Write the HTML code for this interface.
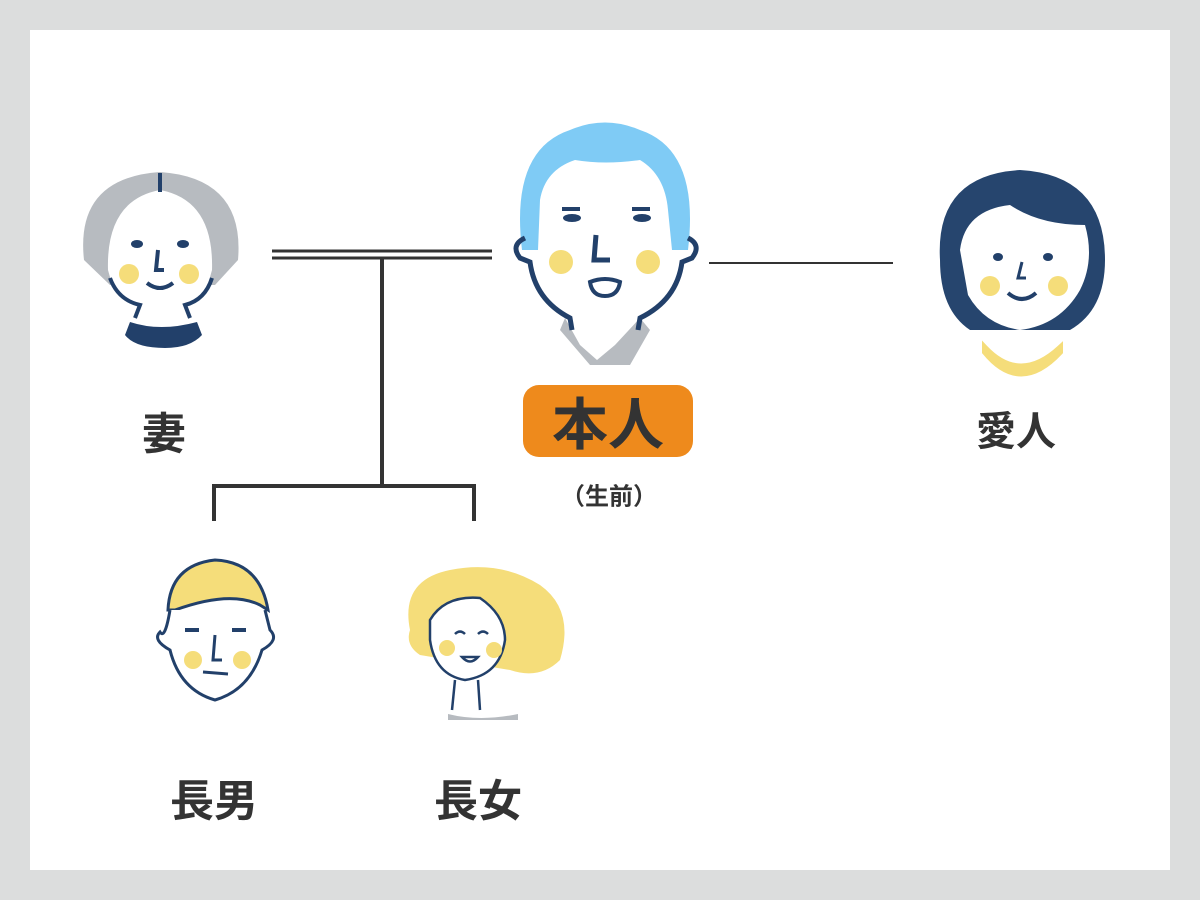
<!DOCTYPE html>
<html><head><meta charset="utf-8"><style>
body{margin:0;width:1200px;height:900px;background:#dcdddd;position:relative;overflow:hidden;font-family:"Liberation Sans","Noto Sans CJK JP",sans-serif}
.card{position:absolute;left:30px;top:30px;width:1140px;height:840px;background:#fff}
.t{position:absolute;font-weight:bold;color:#333;transform:translate(-50%,-50%);white-space:nowrap}
</style></head><body>
<div class="card"></div>
<svg width="1200" height="900" style="position:absolute;left:0;top:0">
<g stroke="#333" fill="none">
<line x1="272" y1="251" x2="492" y2="251" stroke-width="3"/>
<line x1="272" y1="258" x2="492" y2="258" stroke-width="3"/>
<line x1="382" y1="258" x2="382" y2="486" stroke-width="4"/>
<polyline points="214,521 214,486 474,486 474,521" stroke-width="4"/>
<line x1="709" y1="263" x2="893" y2="263" stroke-width="2"/>
</g>
<!-- wife -->
<path d="M84,260 Q75,178 160,172 Q245,178 238,260 L215,285 L110,285 Z" fill="#b7bbc0"/>
<path d="M108,270 Q106,200 160,190 Q214,200 212,270 L205,295 Q190,310 160,310 Q130,310 115,295 Z" fill="#fff"/>
<line x1="160" y1="173" x2="160" y2="192" stroke="#22406a" stroke-width="4"/>
<path d="M110,278 Q118,300 140,305 L135,318 M212,278 Q205,300 185,305 L190,318" fill="none" stroke="#22406a" stroke-width="4"/>
<path d="M130,322 Q160,332 197,322 L202,335 Q190,348 165,348 Q135,348 125,335 Z" fill="#22406a"/>
<ellipse cx="137" cy="244" rx="6" ry="4" fill="#22406a"/><ellipse cx="183" cy="244" rx="6" ry="4" fill="#22406a"/>
<circle cx="129" cy="274" r="10" fill="#f5dd7a"/><circle cx="189" cy="274" r="10" fill="#f5dd7a"/>
<path d="M158,250 L156,270 L164,270" stroke="#22406a" stroke-width="4" fill="none"/>
<path d="M147,283 Q160,293 173,283" stroke="#22406a" stroke-width="4" fill="none"/>
<!-- self -->
<path d="M522,250 Q510,150 570,130 Q605,115 640,130 Q700,150 688,250 Z" fill="#7fcbf5"/>
<path d="M540,200 Q545,170 575,160 Q605,165 640,160 Q665,175 668,210 L672,250 Q670,295 630,310 L580,310 Q540,295 538,250 Z" fill="#fff"/>
<path d="M565,318 L580,345 L597,360 L615,345 L640,318 L650,330 L630,365 L590,365 L560,330 Z" fill="#b7bbc0"/>
<path d="M525,238 Q510,245 520,258 L530,262 Q535,300 570,318 L572,330 M688,238 Q702,245 692,258 L682,262 Q677,300 640,318 L638,330" fill="none" stroke="#22406a" stroke-width="5"/>
<ellipse cx="572" cy="218" rx="9" ry="4" fill="#22406a"/><ellipse cx="642" cy="218" rx="9" ry="4" fill="#22406a"/>
<rect x="562" y="207" width="18" height="4" fill="#22406a"/><rect x="632" y="207" width="18" height="4" fill="#22406a"/>
<circle cx="561" cy="262" r="12" fill="#f5dd7a"/><circle cx="648" cy="262" r="12" fill="#f5dd7a"/>
<path d="M596,235 L594,260 L610,260" stroke="#22406a" stroke-width="5" fill="none"/>
<path d="M590,282 Q605,276 620,282 Q618,296 605,296 Q592,296 590,282 Z" fill="#fff" stroke="#22406a" stroke-width="4"/>
<!-- lover -->
<path d="M940,260 Q935,175 1020,170 Q1105,175 1105,260 Q1105,310 1070,330 L970,330 Q940,310 940,260 Z" fill="#26456e"/>
<path d="M960,250 Q965,210 1010,205 Q1040,225 1085,225 Q1095,260 1080,290 Q1060,325 1020,330 Q985,325 968,295 Z" fill="#fff"/>
<path d="M985,348 Q1020,385 1060,348 L1060,352 Q1020,395 985,352 Z" fill="#f5dd7a" stroke="#f5dd7a" stroke-width="6"/>
<ellipse cx="998" cy="257" rx="5" ry="4" fill="#22406a"/><ellipse cx="1048" cy="257" rx="5" ry="4" fill="#22406a"/>
<circle cx="990" cy="286" r="10" fill="#f5dd7a"/><circle cx="1058" cy="286" r="10" fill="#f5dd7a"/>
<path d="M1022,262 L1018,278 L1026,278" stroke="#22406a" stroke-width="3" fill="none"/>
<path d="M1008,293 Q1022,305 1036,293" stroke="#22406a" stroke-width="4" fill="none"/>
<!-- son -->
<path d="M168,610 Q170,565 215,560 Q260,562 268,610 L260,605 Q230,590 175,610 Z" fill="#f5dd7a" stroke="#22406a" stroke-width="3"/>
<path d="M170,610 Q165,640 160,632 Q152,640 170,650 Q180,690 215,700 Q250,690 262,650 Q280,640 270,630 L265,610" fill="#fff" stroke="#22406a" stroke-width="3"/>
<circle cx="193" cy="660" r="9" fill="#f5dd7a"/><circle cx="242" cy="660" r="9" fill="#f5dd7a"/>
<rect x="185" y="628" width="14" height="4" fill="#22406a"/><rect x="232" y="628" width="14" height="4" fill="#22406a"/>
<path d="M215,635 L213,660 L222,660 M203,672 L228,674" stroke="#22406a" stroke-width="3" fill="none"/>
<!-- daughter -->
<path d="M410,630 Q400,580 450,570 Q500,560 540,585 Q575,610 560,660 Q540,680 510,670 L420,655 Q405,645 410,630 Z" fill="#f5dd7a"/>
<path d="M430,620 Q445,595 480,598 Q505,615 505,640 Q500,675 465,680 Q435,675 430,640 Z" fill="#fff" stroke="#22406a" stroke-width="2.5"/>
<path d="M455,680 L452,710 M478,680 L480,710" stroke="#22406a" stroke-width="2.5"/>
<path d="M448,714 Q480,722 518,714 L518,720 L448,720 Z" fill="#b7bbc0"/>
<circle cx="447" cy="648" r="8" fill="#f5dd7a"/><circle cx="494" cy="650" r="8" fill="#f5dd7a"/>
<path d="M455,634 Q460,629 465,634 M478,634 Q483,629 488,634 M462,657 Q470,666 478,657 Z" stroke="#22406a" stroke-width="2.5" fill="none"/>
</svg>
<div class="t" style="left:164px;top:430px;font-size:44px">妻</div>
<div style="position:absolute;left:523px;top:385px;width:170px;height:72px;background:#ee8a1c;border-radius:16px"></div>
<div class="t" style="left:608px;top:421px;font-size:56px">本人</div>
<div class="t" style="left:609px;top:494px;font-size:24px">（生前）</div>
<div class="t" style="left:1016px;top:428px;font-size:40px">愛人</div>
<div class="t" style="left:214px;top:797px;font-size:44px">長男</div>
<div class="t" style="left:478px;top:797px;font-size:44px">長女</div>
</body></html>
